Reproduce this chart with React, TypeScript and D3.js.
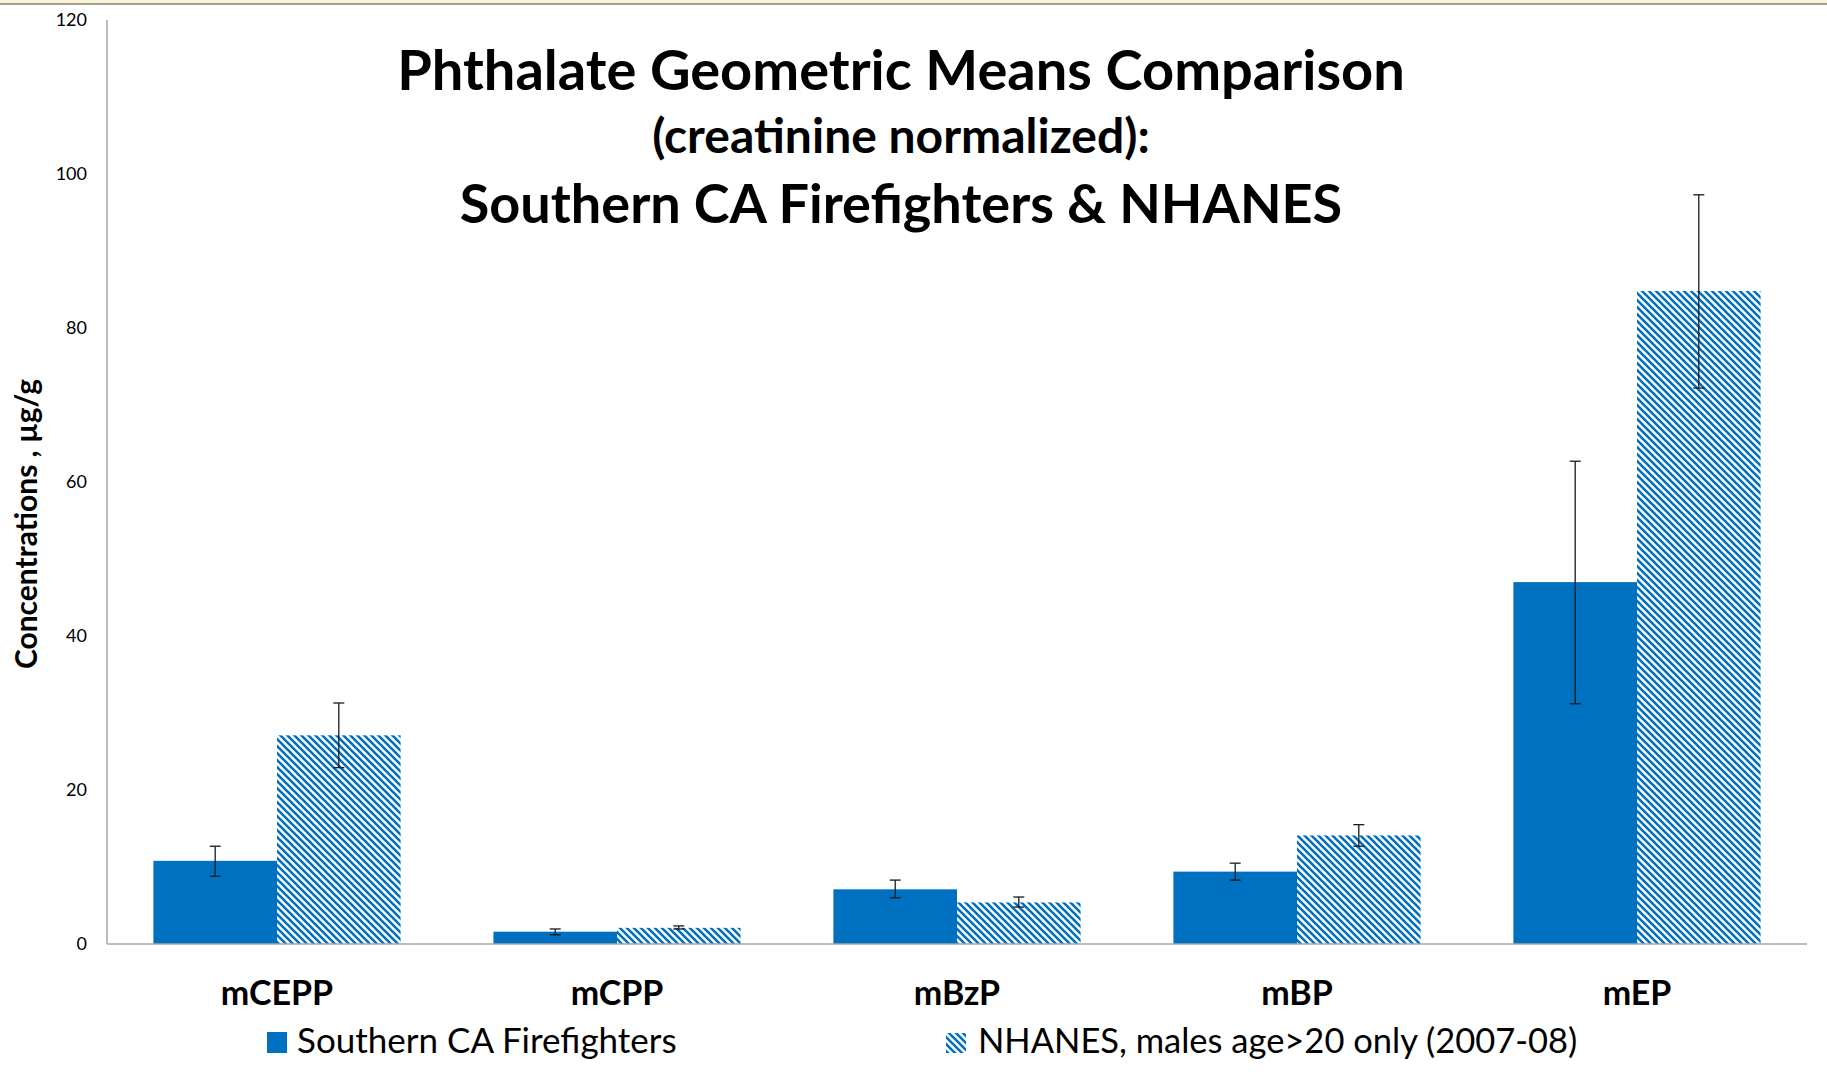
import React, { useEffect } from "react";
import * as d3 from "d3";

const categories = ["mCEPP", "mCPP", "mBzP", "mBP", "mEP"];
const seriesNames = ["Southern CA Firefighters", "NHANES, males age>20 only (2007-08)"];
const firefighters = [10.8, 1.6, 7.1, 9.4, 47.0];
const firefightersLow = [8.8, 1.2, 6.0, 8.3, 31.2];
const firefightersHigh = [12.7, 1.95, 8.3, 10.5, 62.7];
const nhanes = [27.1, 2.1, 5.4, 14.1, 84.8];
const nhanesLow = [22.9, 1.95, 4.8, 12.7, 72.2];
const nhanesHigh = [31.3, 2.35, 6.1, 15.5, 97.3];
const yTicks = [0, 20, 40, 60, 80, 100, 120];
const titleLines = [
  "Phthalate Geometric Means Comparison",
  "(creatinine normalized):",
  "Southern CA Firefighters & NHANES",
];
const yLabel = "Concentrations , µg/g";

const W = 1827;
const H = 1090;
const BLUE = "#0070C0";
const FONT = "Lato, 'Open Sans', sans-serif";

export default function App() {
  useEffect(() => {
    document.body.style.margin = "0";
  }, []);

  const x = d3.scaleBand<string>().domain(categories).range([107, 1807]).paddingInner(0.273).paddingOuter(0.1365);
  const sub = d3.scaleBand<string>().domain(["ff", "nh"]).range([0, x.bandwidth()]);
  const y = d3.scaleLinear().domain([0, 120]).range([944, 20]);

  const series = [
    { key: "ff", vals: firefighters, lo: firefightersLow, hi: firefightersHigh, fill: BLUE },
    { key: "nh", vals: nhanes, lo: nhanesLow, hi: nhanesHigh, fill: "url(#hatch)" },
  ];

  return (
    <svg width={W} height={H} style={{ display: "block", background: "#fff" }}>
      <defs>
        <pattern id="hatch" patternUnits="userSpaceOnUse" width={7} height={7}>
          <rect width={7} height={7} fill="#fff" />
          <path d="M-1,-1 L8,8 M-8,-1 L1,8 M6,-1 L15,8" stroke={BLUE} strokeWidth={2.6} />
        </pattern>
      </defs>
      <rect x={0} y={0} width={W} height={3.5} fill="#FBF5D2" />
      <line x1={0} x2={W} y1={4} y2={4} stroke="#7f7f7f" strokeWidth={1.6} />

      {/* titles */}
      <text x={901} y={90} textAnchor="middle" fontFamily={FONT} fontWeight={700} fontSize={56} fill="#000">
        {titleLines[0]}
      </text>
      <text x={901} y={153} textAnchor="middle" fontFamily={FONT} fontWeight={700} fontSize={48} fill="#000">
        {titleLines[1]}
      </text>
      <text x={901} y={223} textAnchor="middle" fontFamily={FONT} fontWeight={700} fontSize={54} fill="#000">
        {titleLines[2]}
      </text>

      {/* y axis */}
      <line x1={107} x2={107} y1={y(120)} y2={y(0)} stroke="#a6a6a6" strokeWidth={1.5} />
      {yTicks.map((t) => (
        <text key={t} x={87} y={y(t) + 6} textAnchor="end" fontFamily={FONT} fontSize={18} fill="#000">
          {t}
        </text>
      ))}
      <text
        transform={`translate(37,524) rotate(-90)`}
        textAnchor="middle"
        fontFamily={FONT}
        fontWeight={700}
        fontSize={30}
        fill="#000"
      >
        {yLabel}
      </text>

      {/* bars */}
      {series.map((s) =>
        categories.map((c, i) => (
          <rect
            key={s.key + c}
            x={(x(c) as number) + (sub(s.key) as number)}
            y={y(s.vals[i])}
            width={sub.bandwidth()}
            height={y(0) - y(s.vals[i])}
            fill={s.fill}
          />
        ))
      )}

      {/* error bars */}
      {series.map((s) =>
        categories.map((c, i) => {
          const cx = (x(c) as number) + (sub(s.key) as number) + sub.bandwidth() / 2;
          return (
            <g key={"e" + s.key + c} stroke="#1a1a1a" strokeWidth={1.3}>
              <line x1={cx} x2={cx} y1={y(s.hi[i])} y2={y(s.lo[i])} />
              <line x1={cx - 5.5} x2={cx + 5.5} y1={y(s.hi[i])} y2={y(s.hi[i])} />
              <line x1={cx - 5.5} x2={cx + 5.5} y1={y(s.lo[i])} y2={y(s.lo[i])} />
            </g>
          );
        })
      )}

      {/* x axis */}
      <line x1={107} x2={1807} y1={y(0)} y2={y(0)} stroke="#a6a6a6" strokeWidth={1.5} />
      {categories.map((c) => (
        <text
          key={c}
          x={(x(c) as number) + x.bandwidth() / 2}
          y={1005}
          textAnchor="middle"
          fontFamily={FONT}
          fontWeight={700}
          fontSize={34}
          fill="#000"
        >
          {c}
        </text>
      ))}

      {/* legend */}
      <rect x={267} y={1032} width={20} height={21} fill={BLUE} />
      <text x={297} y={1053} fontFamily={FONT} fontSize={35} fill="#000">
        {seriesNames[0]}
      </text>
      <rect x={946} y={1033} width={20} height={20} fill="url(#hatch)" />
      <text x={978} y={1053} fontFamily={FONT} fontSize={34.5} fill="#000">
        {seriesNames[1]}
      </text>
    </svg>
  );
}
